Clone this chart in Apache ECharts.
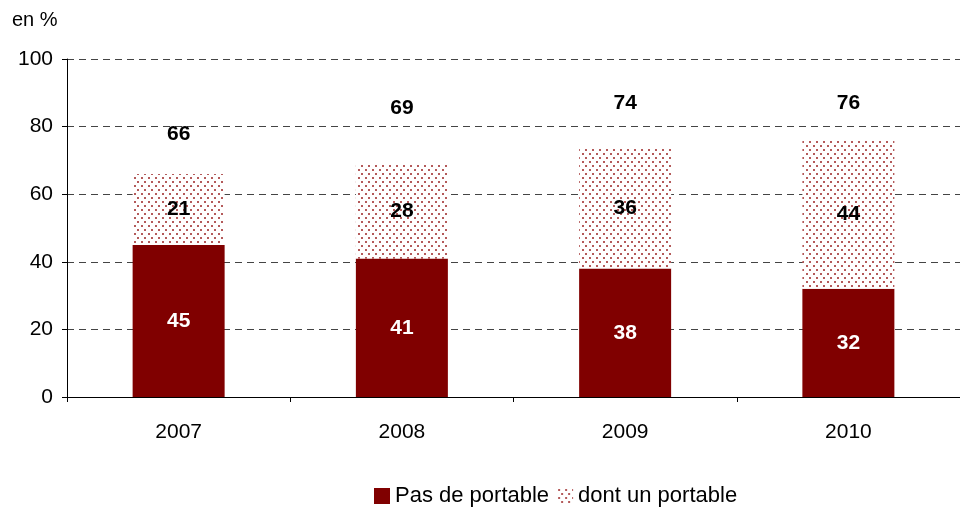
<!DOCTYPE html>
<html>
<head>
<meta charset="utf-8">
<script src="https://cdn.jsdelivr.net/npm/echarts@6/dist/echarts.min.js"></script>
<style>
  body { margin: 0; background: #fff; }
  #chart { width: 960px; height: 509px; }
</style>
</head>
<body>
<div id="chart"></div>
<script>
  const years = ['2007', '2008', '2009', '2010'];
  const sansPortable = [45, 41, 38, 32];
  const avecPortable = [21, 28, 36, 44];
  const totals = [66, 69, 74, 76];
  // the total labels do not sit at the same height above each bar
  const totalLabelShift = [5, -11, 1, 8];

  // dotted fill like the original
  const dots = document.createElement('canvas');
  dots.width = 7;
  dots.height = 8;
  const ctx = dots.getContext('2d');
  ctx.fillStyle = '#fff';
  ctx.fillRect(0, 0, 7, 8);
  ctx.fillStyle = '#b45a5a';
  ctx.fillRect(1, 1, 2, 2);
  ctx.fillRect(4, 5, 2, 2);

  const font = 'Liberation Sans, Arial, sans-serif';
  const chart = echarts.init(document.getElementById('chart'));

  chart.setOption({
    animation: false,
    textStyle: { fontFamily: font },
    graphic: [{
      type: 'text', left: 12, top: 10,
      style: { text: 'en %', fontSize: 20, fontFamily: font, fill: '#000' }
    }],
    grid: { left: 67, right: 0, top: 59, bottom: 112 },
    legend: {
      bottom: -3, left: 369,
      icon: 'rect',
      itemWidth: 16, itemHeight: 16, itemGap: 8,
      textStyle: { fontSize: 22, color: '#000', fontFamily: font },
      data: ['Pas de portable', 'dont un portable']
    },
    xAxis: {
      type: 'category',
      data: years,
      axisLine: { lineStyle: { color: '#000' } },
      axisTick: { show: true, length: 5, lineStyle: { color: '#000' } },
      axisLabel: { fontSize: 21, color: '#000', margin: 25 }
    },
    yAxis: {
      type: 'value',
      min: 0, max: 100, interval: 20,
      axisLine: { show: true, lineStyle: { color: '#000' } },
      axisTick: { show: true, length: 5, lineStyle: { color: '#000' } },
      axisLabel: { fontSize: 21, color: '#000', margin: 14 },
      splitLine: { lineStyle: { color: '#444', type: [7, 5] } }
    },
    series: [
      {
        name: 'Pas de portable',
        type: 'bar',
        stack: 'tot',
        barWidth: 92,
        data: sansPortable,
        itemStyle: { color: '#800000' },
        label: { show: true, position: 'inside', color: '#fff', fontSize: 21, fontWeight: 'bold' }
      },
      {
        name: 'dont un portable',
        type: 'bar',
        stack: 'tot',
        barWidth: 92,
        data: avecPortable,
        itemStyle: { color: { image: dots, repeat: 'repeat' } },
        label: { show: true, position: 'inside', color: '#000', fontSize: 21, fontWeight: 'bold' }
      },
      {
        name: 'total',
        type: 'scatter',
        data: totals.map((v, i) => ({ value: v, label: { offset: [0, totalLabelShift[i]] } })),
        symbolSize: 0,
        silent: true,
        itemStyle: { opacity: 1 },
        label: {
          show: true, position: 'top', distance: 34,
          color: '#000', fontSize: 21, fontWeight: 'bold'
        }
      }
    ]
  });
</script>
</body>
</html>
